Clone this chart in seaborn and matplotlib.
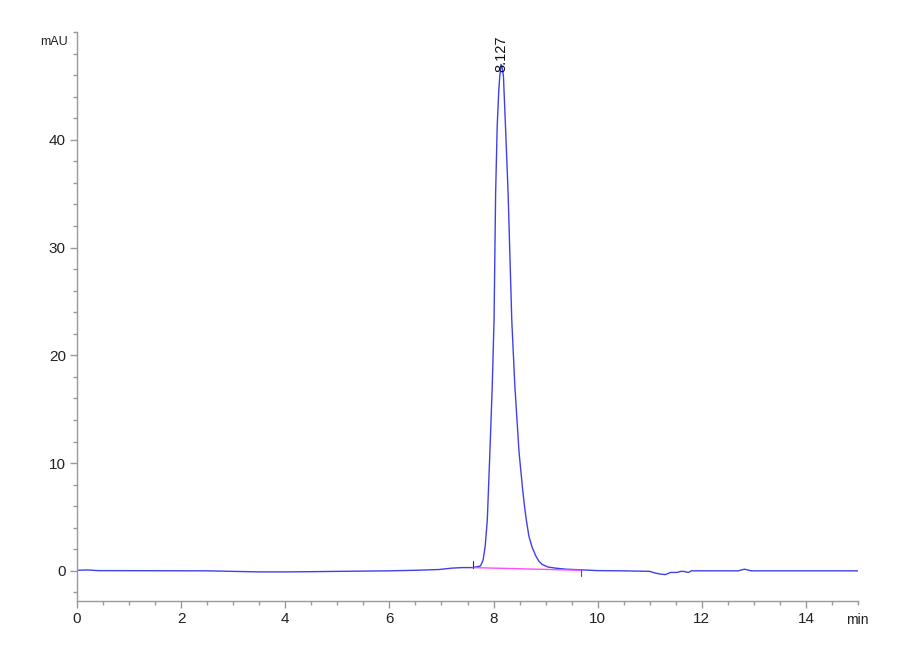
import matplotlib
matplotlib.use("Agg")
import matplotlib.pyplot as plt
import numpy as np
import pandas as pd
import seaborn as sns
from matplotlib.ticker import FixedLocator, MultipleLocator

# ================================
# Chromatogram trace (time in min, signal in mAU)
# ================================

time_min = [0.0, 0.2, 0.4, 2.5, 3.0, 3.5, 4.0, 4.5, 5.0, 6.0, 6.5, 6.95,
            7.2, 7.4, 7.6, 7.75, 7.80, 7.84, 7.88, 7.93, 7.975, 8.01, 8.04,
            8.07, 8.10, 8.12, 8.145, 8.17, 8.19, 8.23, 8.28, 8.35, 8.41,
            8.49, 8.56, 8.60, 8.63, 8.68, 8.74, 8.81, 8.87, 8.93, 9.05,
            9.19, 9.4, 9.64, 10.0, 10.5, 11.0, 11.1, 11.2, 11.3, 11.4,
            11.52, 11.6, 11.65, 11.74, 11.8, 12.0, 12.7, 12.82, 12.95, 13.5,
            14.0, 15.0]
signal_mau = [0.05, 0.08, 0.02, 0.0, -0.05, -0.1, -0.1, -0.08, -0.05, 0.0,
              0.05, 0.12, 0.25, 0.3, 0.3, 0.45, 1.0, 2.3, 4.7, 11.0, 17.1,
              23.3, 35.0, 41.2, 44.5, 45.9, 47.0, 46.6, 45.9, 41.2, 35.0,
              23.3, 17.1, 11.0, 7.5, 5.8, 4.7, 3.2, 2.2, 1.4, 0.9, 0.6,
              0.35, 0.25, 0.15, 0.1, 0.02, 0.0, -0.05, -0.2, -0.3, -0.35,
              -0.15, -0.15, -0.05, -0.05, -0.15, 0.0, 0.0, 0.0, 0.15, 0.0,
              0.0, 0.0, 0.0]

# integration baseline (start / end of the peak)
base_time = [7.6, 9.68]
base_mau = [0.3, 0.05]

peak_time = 8.145
peak_label = "8.127"

y_major = [0, 10, 20, 30, 40]

df = pd.DataFrame({"time": time_min, "signal": signal_mau})

sns.set_style("white")
plt.rcParams["font.family"] = ["Liberation Sans Narrow", "Liberation Sans",
                               "DejaVu Sans"]

fig = plt.figure(figsize=(9, 6.6), dpi=100)
ax = fig.add_axes([77 / 900, 1 - 601 / 660, 781 / 900, 569 / 660])

sns.lineplot(data=df, x="time", y="signal", ax=ax, color="#4040ea",
             linewidth=1.0, estimator=None)
sns.lineplot(x=base_time, y=base_mau, ax=ax, color="#ff4cff", linewidth=1.0)

# start / end tick marks of the integration
ax.plot([base_time[0], base_time[0]], [base_mau[0], base_mau[0] + 0.6],
        color="#333333", linewidth=0.8)
ax.plot([base_time[1], base_time[1]], [base_mau[1], base_mau[1] - 0.55],
        color="#555555", linewidth=0.8)

ax.text(peak_time, 46.3, peak_label, rotation=90, ha="center", va="bottom",
        fontsize=10.5, color="#111111", family=["Liberation Sans"])

ax.set_xlim(0, 15)
ax.set_ylim(-2.8, 50)
ax.xaxis.set_major_locator(MultipleLocator(2))
ax.xaxis.set_minor_locator(MultipleLocator(0.5))
ax.yaxis.set_major_locator(FixedLocator(y_major))
ax.yaxis.set_minor_locator(MultipleLocator(2))

for side in ["top", "right"]:
    ax.spines[side].set_visible(False)
for side in ["left", "bottom"]:
    ax.spines[side].set_color("#999999")
    ax.spines[side].set_linewidth(1.0)

ax.tick_params(which="major", length=5, width=1, color="#999999",
               labelsize=11, labelcolor="#222222", direction="out",
               bottom=True, left=True, pad=3)
ax.tick_params(which="minor", length=3, width=1, color="#999999",
               direction="out", bottom=True, left=True)
ax.set_xlabel("")
ax.set_ylabel("")

fig.text(68 / 900, 1 - 42 / 660, "mAU", ha="right", va="center",
         fontsize=9, color="#222222")
fig.text(846 / 900, 1 - 620 / 660, "min", ha="left", va="center",
         fontsize=10, color="#222222")

fig.savefig("out.png", dpi=100)
